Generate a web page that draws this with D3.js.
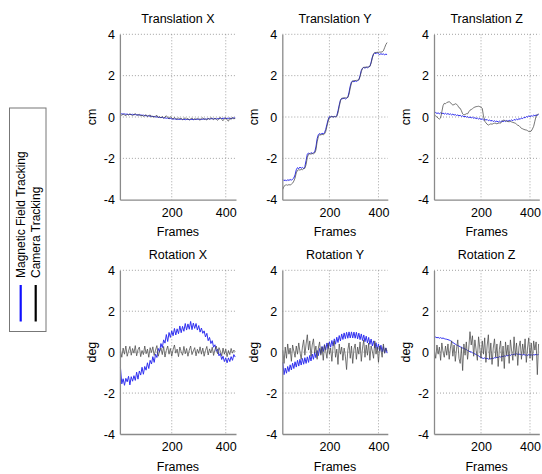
<!DOCTYPE html>
<html>
<head>
<meta charset="utf-8">
<script src="https://cdn.jsdelivr.net/npm/d3@7"></script>
<style>
  html, body { margin: 0; padding: 0; background: #fff; }
  svg { display: block; font-family: "Liberation Sans", Arial, sans-serif; }
</style>
</head>
<body>
<svg id="chart" width="542" height="474"></svg>
<script>
// ---------------- data ----------------
const frames = d3.range(10, 436, 5); // 10,15,...,435  (86 samples)
const titles = ["Translation X", "Translation Y", "Translation Z", "Rotation X", "Rotation Y", "Rotation Z"];
const yLabels = ["cm", "cm", "cm", "deg", "deg", "deg"];
const yTicks = [-4, -2, 0, 2, 4];
const xTicks = [200, 400];
const seriesNames = ["Magnetic Field Tracking", "Camera Tracking"];

const transXMag = [
  0.16,0.15,0.14,0.15,0.13,0.14,0.12,0.13,0.12,0.13,
  0.11,0.12,0.10,0.11,0.09,0.10,0.08,0.09,0.07,0.06,
  0.05,0.06,0.03,0.04,0.02,0.03,0.00,0.01,-0.01,-0.02,
  -0.03,-0.02,-0.05,-0.04,-0.06,-0.05,-0.08,-0.07,-0.09,-0.10,
  -0.09,-0.11,-0.10,-0.12,-0.11,-0.10,-0.12,-0.11,-0.13,-0.12,
  -0.11,-0.13,-0.12,-0.11,-0.13,-0.12,-0.10,-0.12,-0.11,-0.10,
  -0.12,-0.11,-0.09,-0.11,-0.10,-0.08,-0.10,-0.09,-0.07,-0.09,
  -0.08,-0.10,-0.07,-0.09,-0.06,-0.08,-0.07,-0.05,-0.08,-0.06,
  -0.07,-0.05,-0.08,-0.06,-0.04,-0.06];
const transXCam = [
  0.12,0.08,0.14,0.10,0.06,0.13,0.09,0.15,0.11,0.07,
  0.12,0.16,0.10,0.08,0.13,0.05,0.09,0.03,0.07,0.11,
  0.02,0.06,0.10,0.00,0.04,-0.02,0.05,0.08,-0.03,0.02,
  -0.04,0.03,-0.06,0.00,0.06,-0.02,-0.08,0.02,-0.05,-0.10,
  -0.02,-0.08,-0.12,-0.04,-0.10,-0.06,-0.14,-0.08,-0.04,-0.11,
  -0.07,-0.15,-0.09,-0.05,-0.12,-0.08,-0.13,-0.06,-0.10,-0.16,
  -0.08,-0.04,-0.12,-0.09,-0.15,-0.06,-0.11,-0.03,-0.09,-0.13,
  -0.05,-0.10,-0.16,-0.07,-0.02,-0.12,-0.18,-0.08,-0.04,-0.14,
  -0.20,-0.06,-0.12,-0.02,-0.10,-0.05];

const transYMag = [
  -3.02,-3.08,-3.04,-3.10,-3.03,-3.07,-3.02,-3.06,-3.00,-2.95,
  -2.80,-2.55,-2.45,-2.50,-2.42,-2.48,-2.44,-2.50,-2.40,-2.10,
  -1.80,-1.74,-1.78,-1.72,-1.77,-1.73,-1.70,-1.45,-1.05,-0.85,
  -0.80,-0.84,-0.78,-0.82,-0.76,-0.60,-0.35,-0.12,0.02,0.00,
  0.04,-0.01,0.03,0.00,0.06,0.30,0.58,0.82,0.90,0.88,
  0.92,0.87,0.91,0.95,1.20,1.50,1.70,1.74,1.70,1.75,
  1.72,1.76,1.80,2.00,2.25,2.36,2.40,2.36,2.41,2.38,
  2.42,2.45,2.65,2.90,3.05,3.10,3.06,3.12,3.05,3.02,
  3.06,3.03,3.05,3.01,3.04,3.02];
const transYCam = [
  -3.50,-3.35,-3.30,-3.28,-3.30,-3.27,-3.29,-3.25,-3.20,-3.10,
  -2.95,-2.70,-2.58,-2.55,-2.57,-2.53,-2.55,-2.50,-2.48,-2.30,
  -1.95,-1.80,-1.78,-1.80,-1.76,-1.78,-1.74,-1.60,-1.20,-0.95,
  -0.85,-0.87,-0.84,-0.86,-0.82,-0.70,-0.45,-0.20,-0.02,0.00,
  0.02,0.00,0.02,0.01,0.04,0.20,0.50,0.78,0.90,0.92,
  0.92,0.93,0.92,0.95,1.10,1.40,1.65,1.74,1.76,1.76,
  1.77,1.78,1.80,1.95,2.20,2.36,2.40,2.41,2.41,2.42,
  2.42,2.45,2.60,2.85,3.05,3.12,3.12,3.13,3.13,3.14,
  3.14,3.15,3.20,3.35,3.50,3.60];

const transZMag = [
  0.18,0.22,0.17,0.20,0.15,0.21,0.16,0.19,0.14,0.18,
  0.13,0.17,0.12,0.15,0.10,0.14,0.09,0.12,0.07,0.10,
  0.06,0.08,0.03,0.06,0.01,0.04,-0.01,0.02,-0.03,0.00,
  -0.04,-0.01,-0.06,-0.03,-0.08,-0.05,-0.10,-0.07,-0.12,-0.09,
  -0.14,-0.10,-0.15,-0.12,-0.18,-0.14,-0.20,-0.16,-0.22,-0.18,
  -0.23,-0.19,-0.25,-0.20,-0.24,-0.19,-0.23,-0.18,-0.22,-0.17,
  -0.21,-0.16,-0.19,-0.14,-0.18,-0.12,-0.15,-0.10,-0.13,-0.08,
  -0.11,-0.05,-0.08,-0.02,-0.04,0.02,0.00,0.05,0.02,0.06,
  0.04,0.09,0.06,0.10,0.08,0.12];
const transZCam = [
  0.10,0.05,0.00,-0.06,-0.10,-0.05,0.25,0.55,0.66,0.64,
  0.70,0.72,0.74,0.70,0.62,0.58,0.60,0.64,0.62,0.55,
  0.45,0.42,0.30,0.15,0.10,0.12,0.16,0.15,0.25,0.33,
  0.36,0.40,0.45,0.48,0.50,0.51,0.52,0.50,0.47,0.42,
  0.05,-0.20,-0.28,-0.35,-0.39,-0.36,-0.33,-0.35,-0.32,-0.30,
  -0.31,-0.33,-0.30,-0.29,-0.30,-0.22,-0.15,-0.16,-0.18,-0.20,
  -0.22,-0.23,-0.21,-0.24,-0.26,-0.28,-0.30,-0.35,-0.40,-0.42,
  -0.48,-0.55,-0.57,-0.60,-0.62,-0.63,-0.66,-0.70,-0.71,-0.68,
  -0.58,-0.45,-0.20,0.05,0.12,0.15];

const rotXMag = [
  -0.75,-1.55,-1.30,-1.62,-1.28,-1.45,-1.18,-1.60,-1.20,-1.42,
  -1.15,-1.38,-0.98,-1.32,-0.92,-1.12,-0.74,-1.08,-0.70,-0.88,
  -0.52,-0.80,-0.40,-0.58,-0.22,-0.50,-0.10,-0.26,0.18,0.02,
  0.42,0.22,0.60,0.44,0.86,0.52,0.96,0.72,1.04,0.80,
  1.16,0.84,1.14,0.90,1.28,0.95,1.26,1.02,1.40,1.08,
  1.38,1.12,1.50,1.10,1.42,1.16,1.40,1.08,1.30,0.98,
  1.18,0.92,1.04,0.74,0.92,0.56,0.72,0.42,0.56,0.24,
  0.36,0.04,0.14,-0.18,-0.06,-0.36,-0.20,-0.46,-0.28,-0.52,
  -0.28,-0.46,-0.22,-0.40,-0.12,-0.24];
const rotXCam = [
  0.10,-0.25,0.20,-0.10,0.30,-0.20,0.05,0.28,-0.15,0.18,
  -0.05,0.32,-0.18,0.12,0.25,-0.22,0.08,-0.12,0.30,-0.08,
  0.15,-0.25,0.22,-0.02,0.26,-0.16,0.10,0.32,-0.20,0.05,
  0.20,-0.12,0.28,-0.24,0.08,0.30,-0.10,0.18,-0.20,0.12,
  0.35,-0.05,0.15,-0.22,0.25,0.02,-0.15,0.28,-0.08,0.18,
  -0.20,0.10,0.30,-0.12,0.05,0.22,-0.18,0.14,-0.06,0.26,
  -0.10,0.20,-0.20,0.08,0.28,-0.14,0.16,-0.04,0.24,-0.16,
  0.12,0.30,-0.08,0.22,0.05,-0.18,0.20,-0.10,0.15,-0.22,
  0.08,-0.12,0.18,-0.05,0.10,0.02];

const rotYMag = [
  -0.50,-1.10,-0.78,-1.03,-0.70,-0.95,-0.62,-0.87,-0.54,-0.80,
  -0.47,-0.73,-0.40,-0.68,-0.35,-0.63,-0.31,-0.59,-0.27,-0.55,
  -0.23,-0.50,-0.16,-0.43,-0.09,-0.35,-0.01,-0.27,0.08,-0.17,
  0.18,-0.07,0.28,0.03,0.37,0.11,0.45,0.18,0.51,0.24,
  0.57,0.31,0.65,0.39,0.73,0.47,0.81,0.55,0.89,0.62,
  0.94,0.66,0.97,0.68,0.99,0.69,0.99,0.69,0.98,0.68,
  0.97,0.65,0.93,0.61,0.89,0.57,0.84,0.51,0.78,0.45,
  0.72,0.38,0.64,0.30,0.55,0.20,0.46,0.13,0.40,0.07,
  0.34,0.01,0.28,-0.05,0.21,-0.05];
const rotYCam = [
  0.10,-0.55,0.25,-0.30,0.40,-0.10,0.20,-0.45,0.35,0.05,
  -0.25,0.30,-0.10,0.45,0.00,-0.35,0.25,0.60,-0.15,0.40,
  0.85,0.10,0.55,-0.20,0.35,0.65,-0.05,0.30,-0.35,0.20,
  0.50,-0.15,0.25,-0.40,0.35,0.05,-0.30,0.45,-0.10,0.20,
  -0.45,0.30,0.55,-0.25,0.15,-0.60,0.40,-0.10,0.25,-0.40,
  0.20,-0.20,-0.85,0.10,0.45,-0.30,0.30,-0.55,0.15,0.40,
  -0.35,0.25,-0.10,0.50,-0.45,0.20,0.60,-0.25,0.35,-0.15,
  0.45,-0.40,0.30,0.05,-0.30,0.55,-0.10,0.25,-0.50,0.30,
  0.10,-0.25,0.40,-0.05,0.20,0.05];

const rotZMag = [
  0.70,0.74,0.70,0.72,0.68,0.71,0.67,0.69,0.66,0.64,
  0.63,0.61,0.59,0.56,0.52,0.47,0.43,0.39,0.35,0.32,
  0.30,0.26,0.24,0.20,0.19,0.15,0.13,0.08,0.06,0.02,
  0.01,-0.03,-0.05,-0.09,-0.11,-0.16,-0.18,-0.23,-0.25,-0.29,
  -0.31,-0.28,-0.33,-0.30,-0.34,-0.31,-0.33,-0.29,-0.31,-0.27,
  -0.28,-0.25,-0.27,-0.22,-0.24,-0.20,-0.22,-0.18,-0.20,-0.16,
  -0.18,-0.13,-0.16,-0.11,-0.14,-0.09,-0.12,-0.08,-0.11,-0.09,
  -0.12,-0.10,-0.14,-0.11,-0.15,-0.13,-0.16,-0.12,-0.15,-0.13,
  -0.16,-0.12,-0.14,-0.10,-0.13,-0.11];
const rotZCam = [
  0.05,-0.30,0.35,-0.10,0.25,-0.40,0.45,0.00,-0.25,0.30,
  -0.15,0.40,-0.35,0.20,0.55,-0.20,0.35,-0.45,0.15,0.60,
  -0.30,-0.55,0.25,-0.90,0.40,-0.15,0.50,-0.35,0.20,1.00,
  0.35,0.80,-0.20,0.60,0.10,-0.40,0.75,0.20,-0.30,0.55,
  -0.10,0.70,-0.50,0.30,0.85,-0.35,0.45,-0.60,0.20,0.65,
  -0.25,0.40,-0.70,0.15,0.55,-0.45,0.30,-0.80,0.50,-0.15,
  0.35,-0.55,0.60,0.05,-0.40,0.75,-0.20,0.45,-0.65,0.25,
  0.55,-0.35,0.40,-0.10,0.65,-0.50,0.20,0.70,-0.30,0.45,
  -0.40,0.55,0.10,0.50,-1.10,0.40];

const magSeries = [transXMag, transYMag, transZMag, rotXMag, rotYMag, rotZMag];
const camSeries = [transXCam, transYCam, transZCam, rotXCam, rotYCam, rotZCam];

// ---------------- layout ----------------
const svg = d3.select("#chart");
const FONT = 12.5;
const MAG_COLOR = "#3030f0";
const CAM_COLOR = "#4a4a4a";
const AXIS_COLOR = "#8a8a8a";
const GRID_COLOR = "#8c8c8c";

const colX = [[119.9, 236], [282.3, 387.8], [434, 539.3]];
const rowY = [[34.3, 199.7], [270.3, 434]];
const xDomain = [8, 438];
const yDomain = [-4, 4];

titles.forEach((title, k) => {
  const c = k % 3, r = Math.floor(k / 3);
  const x = d3.scaleLinear().domain(xDomain).range(colX[c]);
  const y = d3.scaleLinear().domain(yDomain).range([rowY[r][1], rowY[r][0]]);
  const g = svg.append("g");
  const [x0, x1] = colX[c];
  const [yt, yb] = rowY[r];

  // grid
  g.append("g").selectAll("line.h").data(yTicks.filter(t => t > yDomain[0]))
    .join("line")
    .attr("x1", x0).attr("x2", x1)
    .attr("y1", d => y(d)).attr("y2", d => y(d))
    .attr("stroke", GRID_COLOR).attr("stroke-width", 0.8)
    .attr("stroke-dasharray", "1,2");
  g.append("g").selectAll("line.v").data(xTicks)
    .join("line")
    .attr("x1", d => x(d)).attr("x2", d => x(d))
    .attr("y1", yt).attr("y2", yb)
    .attr("stroke", GRID_COLOR).attr("stroke-width", 0.8)
    .attr("stroke-dasharray", "1,2");

  // series
  const line = d3.line().x((d, i) => x(frames[i])).y(d => y(d));
  const n = frames.length;
  g.append("path").datum(magSeries[k].slice(0, n))
    .attr("d", line).attr("fill", "none")
    .attr("stroke", MAG_COLOR).attr("stroke-width", 1);
  g.append("path").datum(camSeries[k].slice(0, n))
    .attr("d", line).attr("fill", "none")
    .attr("stroke", CAM_COLOR).attr("stroke-width", 0.75);

  // axes
  const ax = g.append("g").attr("transform", `translate(0,${yb})`)
    .call(d3.axisBottom(x).tickValues(xTicks).tickSize(0).tickPadding(8).tickFormat(d3.format("d")));
  const ay = g.append("g").attr("transform", `translate(${x0},0)`)
    .call(d3.axisLeft(y).tickValues(yTicks).tickSize(0).tickPadding(5).tickFormat(d3.format("d")));
  [ax, ay].forEach(a => {
    a.attr("font-family", null).attr("font-size", null);
    a.select(".domain").attr("stroke", AXIS_COLOR).attr("stroke-width", 1.3);
    a.selectAll("text").attr("font-size", FONT).attr("fill", "#000")
      .attr("font-family", "'Liberation Sans', Arial, sans-serif");
  });
  ay.selectAll("text").text(d => d < 0 ? "-" + Math.abs(d) : String(d));

  // title
  g.append("text").attr("x", (x0 + x1) / 2).attr("y", yt - 11.5)
    .attr("text-anchor", "middle").attr("font-size", FONT).text(title);
  // x label
  g.append("text").attr("x", (x0 + x1) / 2).attr("y", yb + 36.5)
    .attr("text-anchor", "middle").attr("font-size", FONT).text("Frames");
  // y label
  g.append("text")
    .attr("transform", `translate(${x0 - 24},${(yt + yb) / 2}) rotate(-90)`)
    .attr("text-anchor", "middle").attr("font-size", FONT).text(yLabels[k]);
});

// ---------------- legend ----------------
const lg = svg.append("g");
lg.append("rect").attr("x", 9.5).attr("y", 108).attr("width", 36.5).attr("height", 223.5)
  .attr("fill", "#fff").attr("stroke", "#777").attr("stroke-width", 1);
const legendColors = ["#1010ff", "#000"];
seriesNames.forEach((name, i) => {
  const cx = 20.7 + i * 15;
  lg.append("line").attr("x1", cx).attr("x2", cx).attr("y1", 285).attr("y2", 321.5)
    .attr("stroke", legendColors[i]).attr("stroke-width", 2.2);
  lg.append("text")
    .attr("transform", `translate(${cx + 4.3},278) rotate(-90)`)
    .attr("text-anchor", "start").attr("font-size", 12).text(name);
});
</script>
</body>
</html>
